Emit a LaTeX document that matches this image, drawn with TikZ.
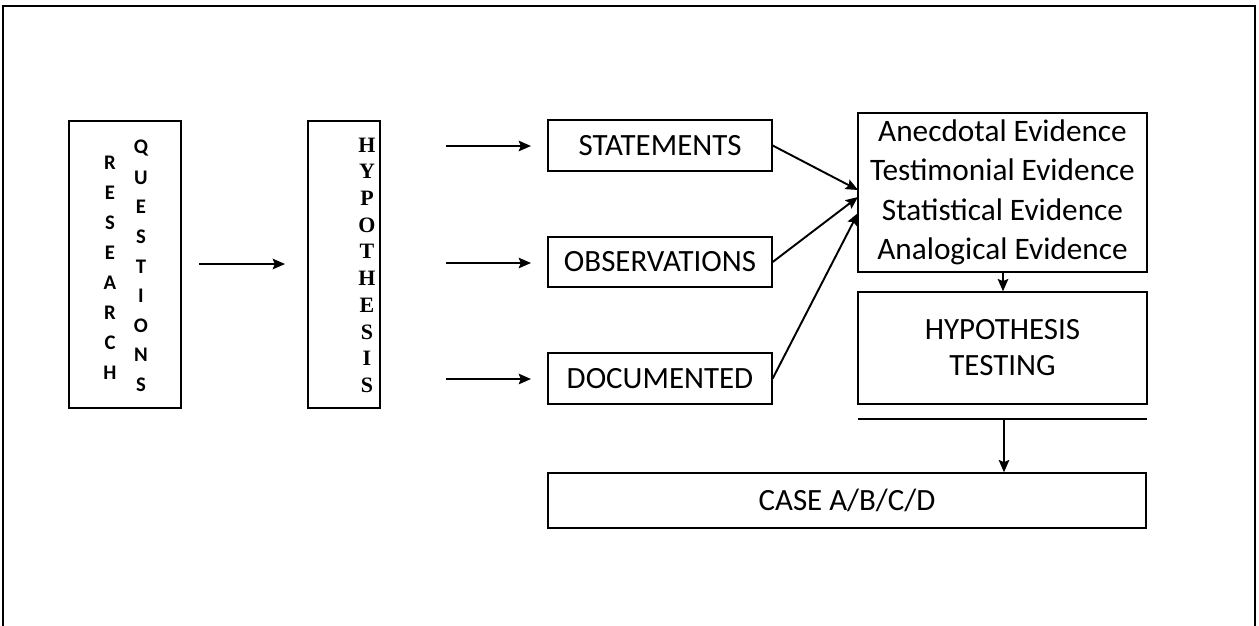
\documentclass[tikz,border=0pt]{standalone}
\usepackage{fontspec}
\usetikzlibrary{arrows.meta}
\setmainfont{Carlito}
\newfontfamily\hypfont{Liberation Serif}
\begin{document}
\begin{tikzpicture}[>={Stealth[length=7pt, width=6pt, inset=1.2pt]}, x=0.02cm, y=-0.02cm, line width=0.8pt]

    % 外框
    \useasboundingbox (0, 0) rectangle (1259, 626);
    \draw (3, 626) -- (3, 6) -- (1255, 6) -- (1255, 626);

    \tikzset{
        box/.style={draw, rectangle, inner sep=0pt, align=center,
                    font=\fontsize{17.6}{21}\selectfont},
        conn/.style={->, line width=1.1pt},
        rqletter/.style={font=\fontsize{11.8}{14}\selectfont\bfseries, inner sep=0pt},
        hypletter/.style={font=\fontsize{12.5}{15}\selectfont\hypfont\bfseries, inner sep=0pt}
    }

    % 竖排框
    \node[box, minimum width=2.24cm, minimum height=5.74cm] (rq) at (125, 264.5) {};
    \node[box, minimum width=1.44cm, minimum height=5.74cm] (hyp) at (344, 264.5) {};

    \foreach \c [count=\i from 0] in {R,E,S,E,A,R,C,H}
        \node[rqletter] (res\i) at (110, 163+30*\i) {\c};
    \foreach \c [count=\i from 0] in {Q,U,E,S,T,I,O,N,S}
        \node[rqletter] (que\i) at (141, 148+29.6*\i) {\c};
    \foreach \c [count=\i from 0] in {H,Y,P,O,T,H,E,S,I,S}
        \node[hypletter] (hl\i) at (367, 145+26.7*\i) {\c};

    % 中间三个框
    \node[box, minimum width=4.48cm, minimum height=1.02cm] (stmt) at (660, 145.5) {STATEMENTS};
    \node[box, minimum width=4.48cm, minimum height=1.0cm] (obs) at (660, 262) {OBSERVATIONS};
    \node[box, minimum width=4.48cm, minimum height=1.02cm] (doc) at (660, 378.5) {DOCUMENTED};

    % 右侧框
    \node[box, minimum width=5.78cm, minimum height=3.18cm,
          font=\fontsize{17.8}{22.5}\selectfont] (evid) at (1002.5, 192.5)
        {Anecdotal Evidence\\Testimonial Evidence\\Statistical Evidence\\Analogical Evidence};
    \node[box, minimum width=5.78cm, minimum height=2.24cm,
          font=\fontsize{17.6}{20.5}\selectfont] (test) at (1002.5, 348)
        {HYPOTHESIS\\TESTING};
    \node[box, minimum width=11.96cm, minimum height=1.1cm] (case) at (847, 500.5) {CASE A/B/C/D};

    % 箭头
    \coordinate (rqa) at (199, 264);
    \coordinate (rqb) at (285, 264);
    \draw[conn] (rqa) -- (rqb);

    \coordinate (s1) at (446, 146);
    \coordinate (s2) at (531, 146);
    \coordinate (o1) at (446, 263);
    \coordinate (o2) at (531, 263);
    \coordinate (d1) at (446, 379);
    \coordinate (d2) at (531, 379);
    \draw[conn] (s1) -- (s2);
    \draw[conn] (o1) -- (o2);
    \draw[conn] (d1) -- (d2);

    \coordinate (e1) at (858, 190);
    \coordinate (e2) at (858, 197);
    \coordinate (e3) at (858, 213);
    \draw[conn] (stmt.east) -- (e1);
    \draw[conn] (obs.east) -- (e2);
    \draw[conn] (doc.east) -- (e3);

    \coordinate (et) at (1003, 0);
    \draw[conn] (evid.south -| et) -- (test.north -| et);

    % 分隔线
    \coordinate (bl) at (858, 419);
    \coordinate (br) at (1147, 419);
    \draw[line width=1.1pt] (bl) -- (br);
    \coordinate (bm) at (1004, 419);
    \draw[conn] (bm) -- (case.north -| bm);

\end{tikzpicture}
\end{document}
